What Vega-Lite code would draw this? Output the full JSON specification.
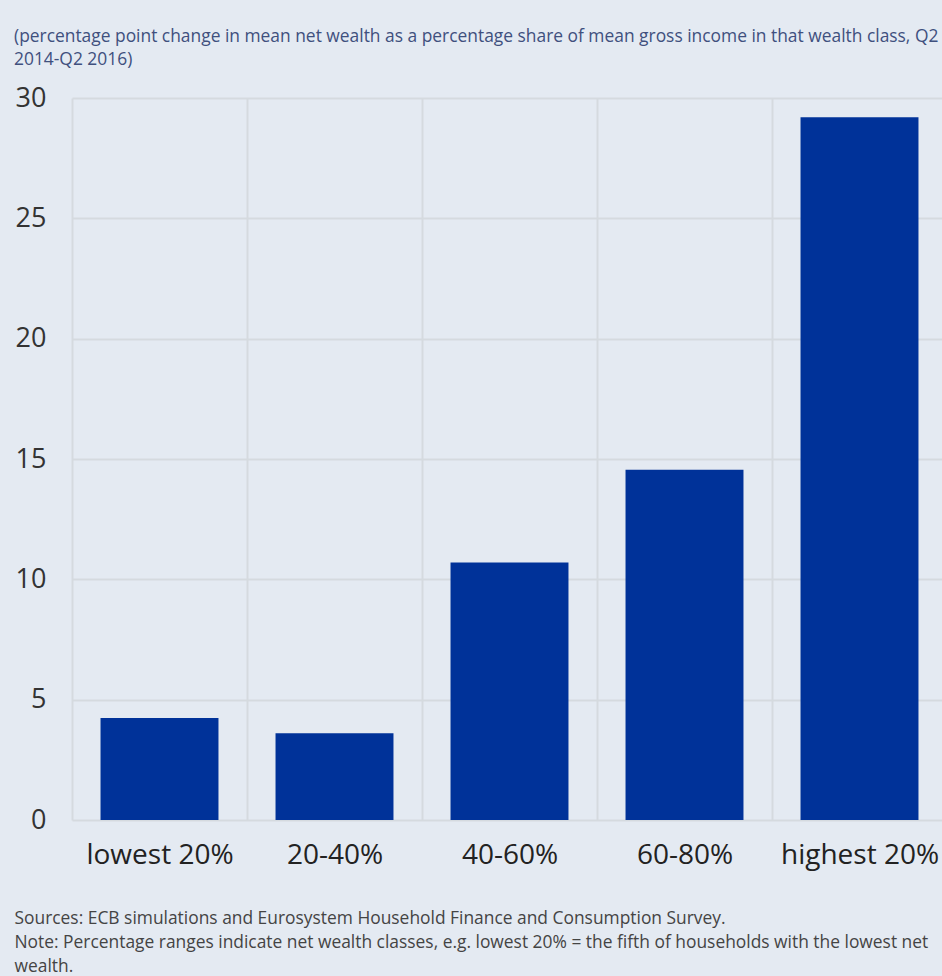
{
  "$schema": "https://vega.github.io/schema/vega-lite/v6.json",
  "autosize": "none",
  "width": 875,
  "height": 722,
  "padding": {"left": 72, "top": 98, "right": 0, "bottom": 156},
  "background": "#e4eaf2",
  "config": {
    "font": "Open Sans",
    "view": {"stroke": null}
  },
  "title": {
    "text": ["(percentage point change in mean net wealth as a percentage share of mean gross income in that wealth class, Q2", "2014-Q2 2016)"],
    "anchor": "start",
    "frame": "group",
    "fontSize": 17.4,
    "fontWeight": "normal",
    "color": "#40507e",
    "lineHeight": 23,
    "dx": -58,
    "offset": 16
  },
  "data": {
    "values": [
      {"class": "lowest 20%", "value": 4.24},
      {"class": "20-40%", "value": 3.6},
      {"class": "40-60%", "value": 10.7},
      {"class": "60-80%", "value": 14.55},
      {"class": "highest 20%", "value": 29.2}
    ]
  },
  "mark": {"type": "bar", "color": "#003299", "width": {"band": 0.674}},
  "encoding": {
    "x": {
      "field": "class",
      "type": "nominal",
      "sort": null,
      "scale": {"paddingInner": 0, "paddingOuter": 0},
      "axis": {
        "labelAngle": 0,
        "labelFontSize": 28,
        "labelColor": "#222222",
        "labelPadding": 21,
        "ticks": false,
        "domain": false,
        "grid": true,
        "tickBand": "extent",
        "gridColor": "#d5dadf",
        "gridWidth": 2,
        "title": ["Sources: ECB simulations and Eurosystem Household Finance and Consumption Survey.", "Note: Percentage ranges indicate net wealth classes, e.g. lowest 20% = the fifth of households with the lowest net", "wealth."],
        "titleFontSize": 17.4,
        "titleFontWeight": "normal",
        "titleColor": "#444444",
        "titleAnchor": "start",
        "titleAlign": "left",
        "titleLineHeight": 24,
        "titleX": -58,
        "titlePadding": 40
      }
    },
    "y": {
      "field": "value",
      "type": "quantitative",
      "scale": {"domain": [0, 30], "nice": false},
      "axis": {
        "values": [0, 5, 10, 15, 20, 25, 30],
        "labelFontSize": 27,
        "labelColor": "#333333",
        "labelPadding": 26,
        "ticks": false,
        "domain": false,
        "gridColor": "#d5dadf",
        "gridWidth": 2,
        "title": null
      }
    }
  }
}
